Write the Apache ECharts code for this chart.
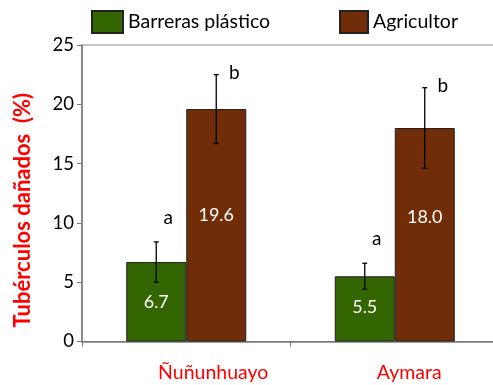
<!DOCTYPE html>
<html>
<head>
<meta charset="utf-8">
<script src="https://cdn.jsdelivr.net/npm/echarts@6/dist/echarts.min.js"></script>
<style>
  html, body { margin: 0; padding: 0; background: #fff; }
  #chart { width: 493px; height: 385px; }
</style>
</head>
<body>
<div id="chart"></div>
<script>
// Damaged tubers (%) by locality and treatment
const categories = ['Ñuñunhuayo', 'Aymara'];
const seriesNames = ['Barreras plástico', 'Agricultor'];
const barrerasValues = [6.7, 5.5];
const agricultorValues = [19.6, 18.0];
const barrerasErrors = [1.7, 1.1];
const agricultorErrors = [2.9, 3.4];
const barrerasLetters = ['a', 'a'];
const agricultorLetters = ['b', 'b'];
const yTicks = [0, 5, 10, 15, 20, 25];

const FONT = 'Lato, "Open Sans", sans-serif';
const GREEN = '#336600';
const BROWN = '#702d07';
const BAR_W = 60;

// vertical nudges for the value labels inside the bars (px)
const barrerasLabelShift = [0, -2];
const agricultorLabelShift = [-10, -18];

const chart = echarts.init(document.getElementById('chart'), null, { renderer: 'canvas' });

// Error bars with significance letters, drawn over the bars
function errorSeries(values, errors, letters, side, letterOffset) {
  const data = values.map((v, i) => [i, v, errors[i], letters[i]]);
  return {
    type: 'custom',
    z: 10,
    data: data,
    renderItem: function (params, api) {
      const idx = api.value(0);
      const v = api.value(1);
      const e = api.value(2);
      const letter = data[params.dataIndex][3];
      const center = api.coord([idx, v]);
      const x = center[0] + side * BAR_W / 2;
      const top = api.coord([idx, v + e])[1];
      const bot = api.coord([idx, v - e])[1];
      const cap = 2.5;
      const st = { stroke: '#000', lineWidth: 1.3 };
      return {
        type: 'group',
        children: [
          { type: 'line', shape: { x1: x, y1: top, x2: x, y2: bot }, style: st },
          { type: 'line', shape: { x1: x - cap, y1: top, x2: x + cap, y2: top }, style: st },
          { type: 'line', shape: { x1: x - cap, y1: bot, x2: x + cap, y2: bot }, style: st },
          {
            type: 'text',
            style: {
              text: letter,
              x: x + letterOffset[0],
              y: top + letterOffset[1],
              align: 'center',
              verticalAlign: 'middle',
              font: '19px ' + FONT,
              fill: '#000'
            }
          }
        ]
      };
    }
  };
}

function barData(values, shifts) {
  return values.map((v, i) => ({ value: v, label: { offset: [0, shifts[i]] } }));
}

const legendText = { fontSize: 19.5, fontFamily: FONT, color: '#000' };

const option = {
  backgroundColor: '#fff',
  animation: false,
  legend: [
    {
      data: [{ name: seriesNames[0], icon: 'rect' }],
      left: 86, top: 5,
      itemWidth: 31, itemHeight: 22,
      textStyle: legendText
    },
    {
      data: [{ name: seriesNames[1], icon: 'rect' }],
      left: 334, top: 5,
      itemWidth: 28, itemHeight: 22,
      textStyle: legendText
    }
  ],
  grid: {
    left: 82, top: 45, width: 417, height: 296.5,
    containLabel: false,
    outerBoundsMode: 'none',
    show: true, borderColor: '#888', borderWidth: 1
  },
  xAxis: {
    type: 'category',
    data: [
      { value: categories[0], textStyle: { padding: [0, 0, 0, 54] } },
      { value: categories[1], textStyle: { padding: [0, 0, 0, 29] } }
    ],
    axisLine: { lineStyle: { color: '#777', width: 1.5 } },
    axisTick: { show: true, length: 5, lineStyle: { color: '#777' } },
    axisLabel: { color: '#ff0000', fontSize: 19.5, fontFamily: FONT, margin: 21 },
    splitLine: { show: false }
  },
  yAxis: {
    type: 'value',
    min: 0, max: 25, interval: 5,
    name: 'Tubérculos dañados  (%)',
    nameLocation: 'middle',
    nameGap: 48,
    nameTextStyle: {
      color: '#ff0000', fontSize: 22, fontWeight: 'bold', fontFamily: FONT,
      padding: [0, 34, 0, 0]
    },
    axisLine: { show: true, lineStyle: { color: '#777', width: 1.5 } },
    axisTick: { show: true, length: 5, inside: false, lineStyle: { color: '#777' } },
    axisLabel: {
      color: '#000', fontSize: 18.5, fontFamily: FONT, margin: 8,
      formatter: v => (yTicks.indexOf(v) >= 0 ? String(v) : '')
    },
    splitLine: { show: false }
  },
  series: [
    {
      name: seriesNames[0],
      type: 'bar',
      barWidth: BAR_W,
      barGap: '0%',
      data: barData(barrerasValues, barrerasLabelShift),
      itemStyle: { color: GREEN, borderColor: '#222', borderWidth: 1 },
      label: {
        show: true, position: 'inside', color: '#fff',
        fontSize: 18, fontFamily: FONT,
        formatter: p => p.value.toFixed(1)
      }
    },
    {
      name: seriesNames[1],
      type: 'bar',
      barWidth: BAR_W,
      barGap: '0%',
      data: barData(agricultorValues, agricultorLabelShift),
      itemStyle: { color: BROWN, borderColor: '#222', borderWidth: 1 },
      label: {
        show: true, position: 'inside', color: '#fff',
        fontSize: 18, fontFamily: FONT,
        formatter: p => p.value.toFixed(1)
      }
    },
    errorSeries(barrerasValues, barrerasErrors, barrerasLetters, -1, [12, -24]),
    errorSeries(agricultorValues, agricultorErrors, agricultorLetters, 1, [18, -2])
  ]
};

chart.setOption(option);
</script>
</body>
</html>
